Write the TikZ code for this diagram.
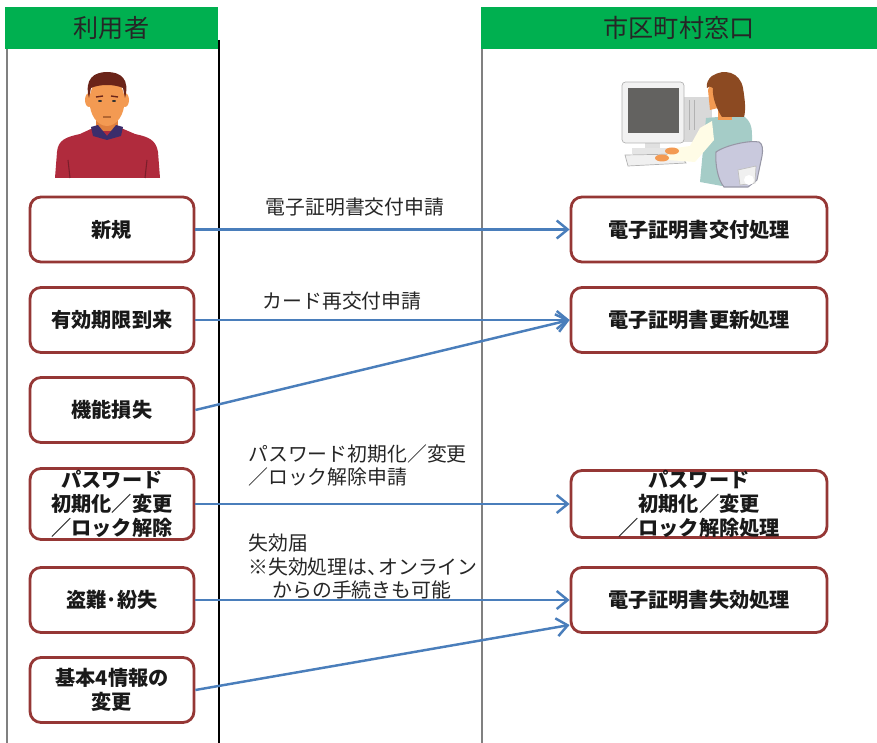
\documentclass[tikz,border=0pt]{standalone}
\usepackage{fontspec}
\setmainfont{Noto Sans CJK JP}
\usetikzlibrary{arrows.meta}

\definecolor{laneGreen}{HTML}{00B050}
\definecolor{boxRed}{HTML}{953735}
\definecolor{flowBlue}{HTML}{4A7EBB}
\definecolor{skin}{HTML}{F39A52}
\definecolor{skinDark}{HTML}{E0803E}
\definecolor{hairMan}{HTML}{6A2419}
\definecolor{shirtRed}{HTML}{B02B3D}
\definecolor{collarNavy}{HTML}{3B2D6B}
\definecolor{hairWoman}{HTML}{8C4A22}
\definecolor{vestTeal}{HTML}{A5CCC7}
\definecolor{blouse}{HTML}{FFFCE6}
\definecolor{chairLilac}{HTML}{C9C9DD}
\definecolor{screenGray}{HTML}{636260}

\tikzset{
    lanehead/.style={rectangle,fill=laneGreen,inner sep=0pt,minimum width=#1,minimum height=0.84cm,
        font=\fontsize{14.3}{16}\selectfont,text=black!85},
    userbox/.style={rectangle,draw=boxRed,line width=1.6pt,rounded corners=0.22cm,fill=white,
        minimum width=3.28cm,minimum height=1.3cm,inner sep=0pt,align=center,
        font=\bfseries\fontsize{11.5}{13.5}\selectfont,text=black!90},
    deskbox/.style={userbox,minimum width=5.12cm},
    flow/.style={draw=flowBlue,line width=1.4pt,-{Straight Barb[length=2.2mm,width=3.6mm]}},
    flowlabel/.style={font=\fontsize{11.3}{13.4}\selectfont,text=black!85,inner sep=0pt},
}

\begin{document}
\begin{tikzpicture}[x=0.02cm,y=-0.02cm]
            \useasboundingbox (0,0) rectangle (877,743);

            % swim lanes
            \draw[gray,line width=1pt] (7,49) -- (7,743);
            \draw[black,line width=0.7pt] (219,40) -- (219,743);
            \draw[gray,line width=1pt] (482,49) -- (482,743);
            \node[lanehead=4.26cm] (userlane) at (111.5,28) {利用者};
            \node[lanehead=7.92cm] (desklane) at (679,28) {市区町村窓口};

            % user
            \fill[shirtRed] (55,178) -- (57,152) .. controls (58,140) and (66,137) .. (80,134) -- (93,128)
                -- (121,128) -- (135,134) .. controls (149,137) and (156,140) .. (158,152) -- (160,178) -- cycle;
            \draw[black!30!shirtRed,line width=0.6pt] (68,160) -- (70,178) (147,160) -- (145,178);
            \fill[skinDark] (96,112) rectangle (118,131);
            \fill[collarNavy] (91,127) -- (98,125) -- (107,136) -- (116,125) -- (123,127) -- (121,136)
                -- (107,140) -- (93,136) -- cycle;
            \fill[skin] (89,100) ellipse (4 and 7);
            \fill[skin] (125,100) ellipse (4 and 7);
            \fill[skin] (107,101) ellipse (17.5 and 25);
            \fill[hairMan] (89,98) .. controls (84,79) and (94,72) .. (107,72) .. controls (121,72) and (130,79) .. (125,98)
                -- (123,88) .. controls (114,84) and (100,84) .. (91,88) -- cycle;
            \fill[black!80] (100,101) ellipse (2 and 1) (114,101) ellipse (2 and 1);
            \draw[hairMan,line width=0.8pt] (96,97) -- (103,96) (111,96) -- (118,97);
            \draw[black!20!skinDark,line width=1.2pt] (103,117) -- (111,117);

            % clerk at a computer
            \fill[black!15] (683,97) rectangle (712,142);
            \draw[black!30] (689,100) -- (689,130) (694,100) -- (694,130);
            \fill[black!12] (645,138) rectangle (660,150);
            \fill[black!10] (632,148) rectangle (674,154);
            \filldraw[fill=black!5,draw=black!30,rounded corners=2pt] (622,82) rectangle (684,143);
            \fill[screenGray] (628,88) rectangle (679,133);
            \filldraw[fill=black!6,draw=black!30] (625,155) -- (680,154) -- (686,163) -- (628,166) -- cycle;
            \fill[vestTeal] (706,118) -- (742,115) .. controls (750,120) and (752,126) .. (752,135) -- (752,172)
                -- (722,186) -- (700,182) -- cycle;
            \fill[blouse] (712,121) -- (700,128) -- (690,146) -- (668,149) -- (667,160) -- (695,162) -- (714,140) -- cycle;
            \fill[skin] (662,158) ellipse (7 and 3.5);
            \fill[skin] (672,151) ellipse (7 and 3.5);
            \fill[skin] (718,108) rectangle (732,120);
            \fill[skin] (708,90) .. controls (709,84) and (713,83) .. (716,86) -- (718,108) -- (710,110) -- cycle;
            \fill[hairWoman] (712,76) .. controls (724,68) and (740,72) .. (743,88) .. controls (745,100) and (746,110) .. (744,117)
                -- (722,117) .. controls (716,108) and (712,96) .. (713,88) .. controls (711,86) and (708,86) .. (707,88)
                .. controls (706,84) and (708,79) .. (712,76) -- cycle;
            \filldraw[fill=chairLilac,draw=black!25!chairLilac,line width=0.6pt] (716,152) .. controls (726,145) and (750,140) .. (759,142)
                .. controls (763,144) and (763,150) .. (762,156) -- (757,180) -- (748,187) -- (724,187)
                .. controls (718,180) and (715,165) .. (716,152) -- cycle;
            \filldraw[fill=black!6,draw=black!25] (738,170) -- (756,166) -- (755,183) -- (740,185) -- cycle;
            \fill[white] (749,180) circle (5);

            % steps on the user side
            \node[userbox] (shinki) at (112,229.5) {新規};
            \node[userbox] (kigen) at (112,320) {有効期限到来};
            \node[userbox] (sonshitsu) at (112,410) {機能損失};
            \node[userbox,minimum height=1.42cm] (passwd) at (112,504) {パスワード\\初期化／変更\\／ロック解除};
            \node[userbox] (tonan) at (112,600) {盗難･紛失};
            \node[userbox] (kihon) at (112,690) {基本4情報の\\変更};

            % processing at the desk
            \node[deskbox] (koufu) at (699,229.5) {電子証明書交付処理};
            \node[deskbox] (koushin) at (699,320) {電子証明書更新処理};
            \node[deskbox,minimum height=1.34cm] (pwdshori) at (699,504) {パスワード\\初期化／変更\\／ロック解除処理};
            \node[deskbox] (shikkou) at (699,600) {電子証明書失効処理};

            \node[flowlabel] (lbkoufu) at (355,207) {電子証明書交付申請};
            \node[flowlabel] (lbkoushin) at (342,301) {カード再交付申請};
            \node[flowlabel,anchor=west,align=left] (lbpasswd) at (248,465.5) {パスワード初期化／変更\\／ロック解除申請};
            \node[flowlabel,anchor=west,align=left] (lbshikkou) at (248,566.5) {失効届\\※失効処理は、\hspace{-0.45em}オンライン\\\hspace*{1.22em}からの手続きも可能};

            \draw[flow] (shinki.east) -- (koufu.west);
            \draw[flow] (kigen.east) -- (koushin.west);
            \draw[flow] (sonshitsu.east) -- (koushin.west);
            \draw[flow] (passwd.east) -- (pwdshori.west);
            \draw[flow] (tonan.east) -- (shikkou.west);
            \draw[flow] (kihon.east) -- ([yshift=-0.5cm]shikkou.west);
        \end{tikzpicture}
\end{document}
